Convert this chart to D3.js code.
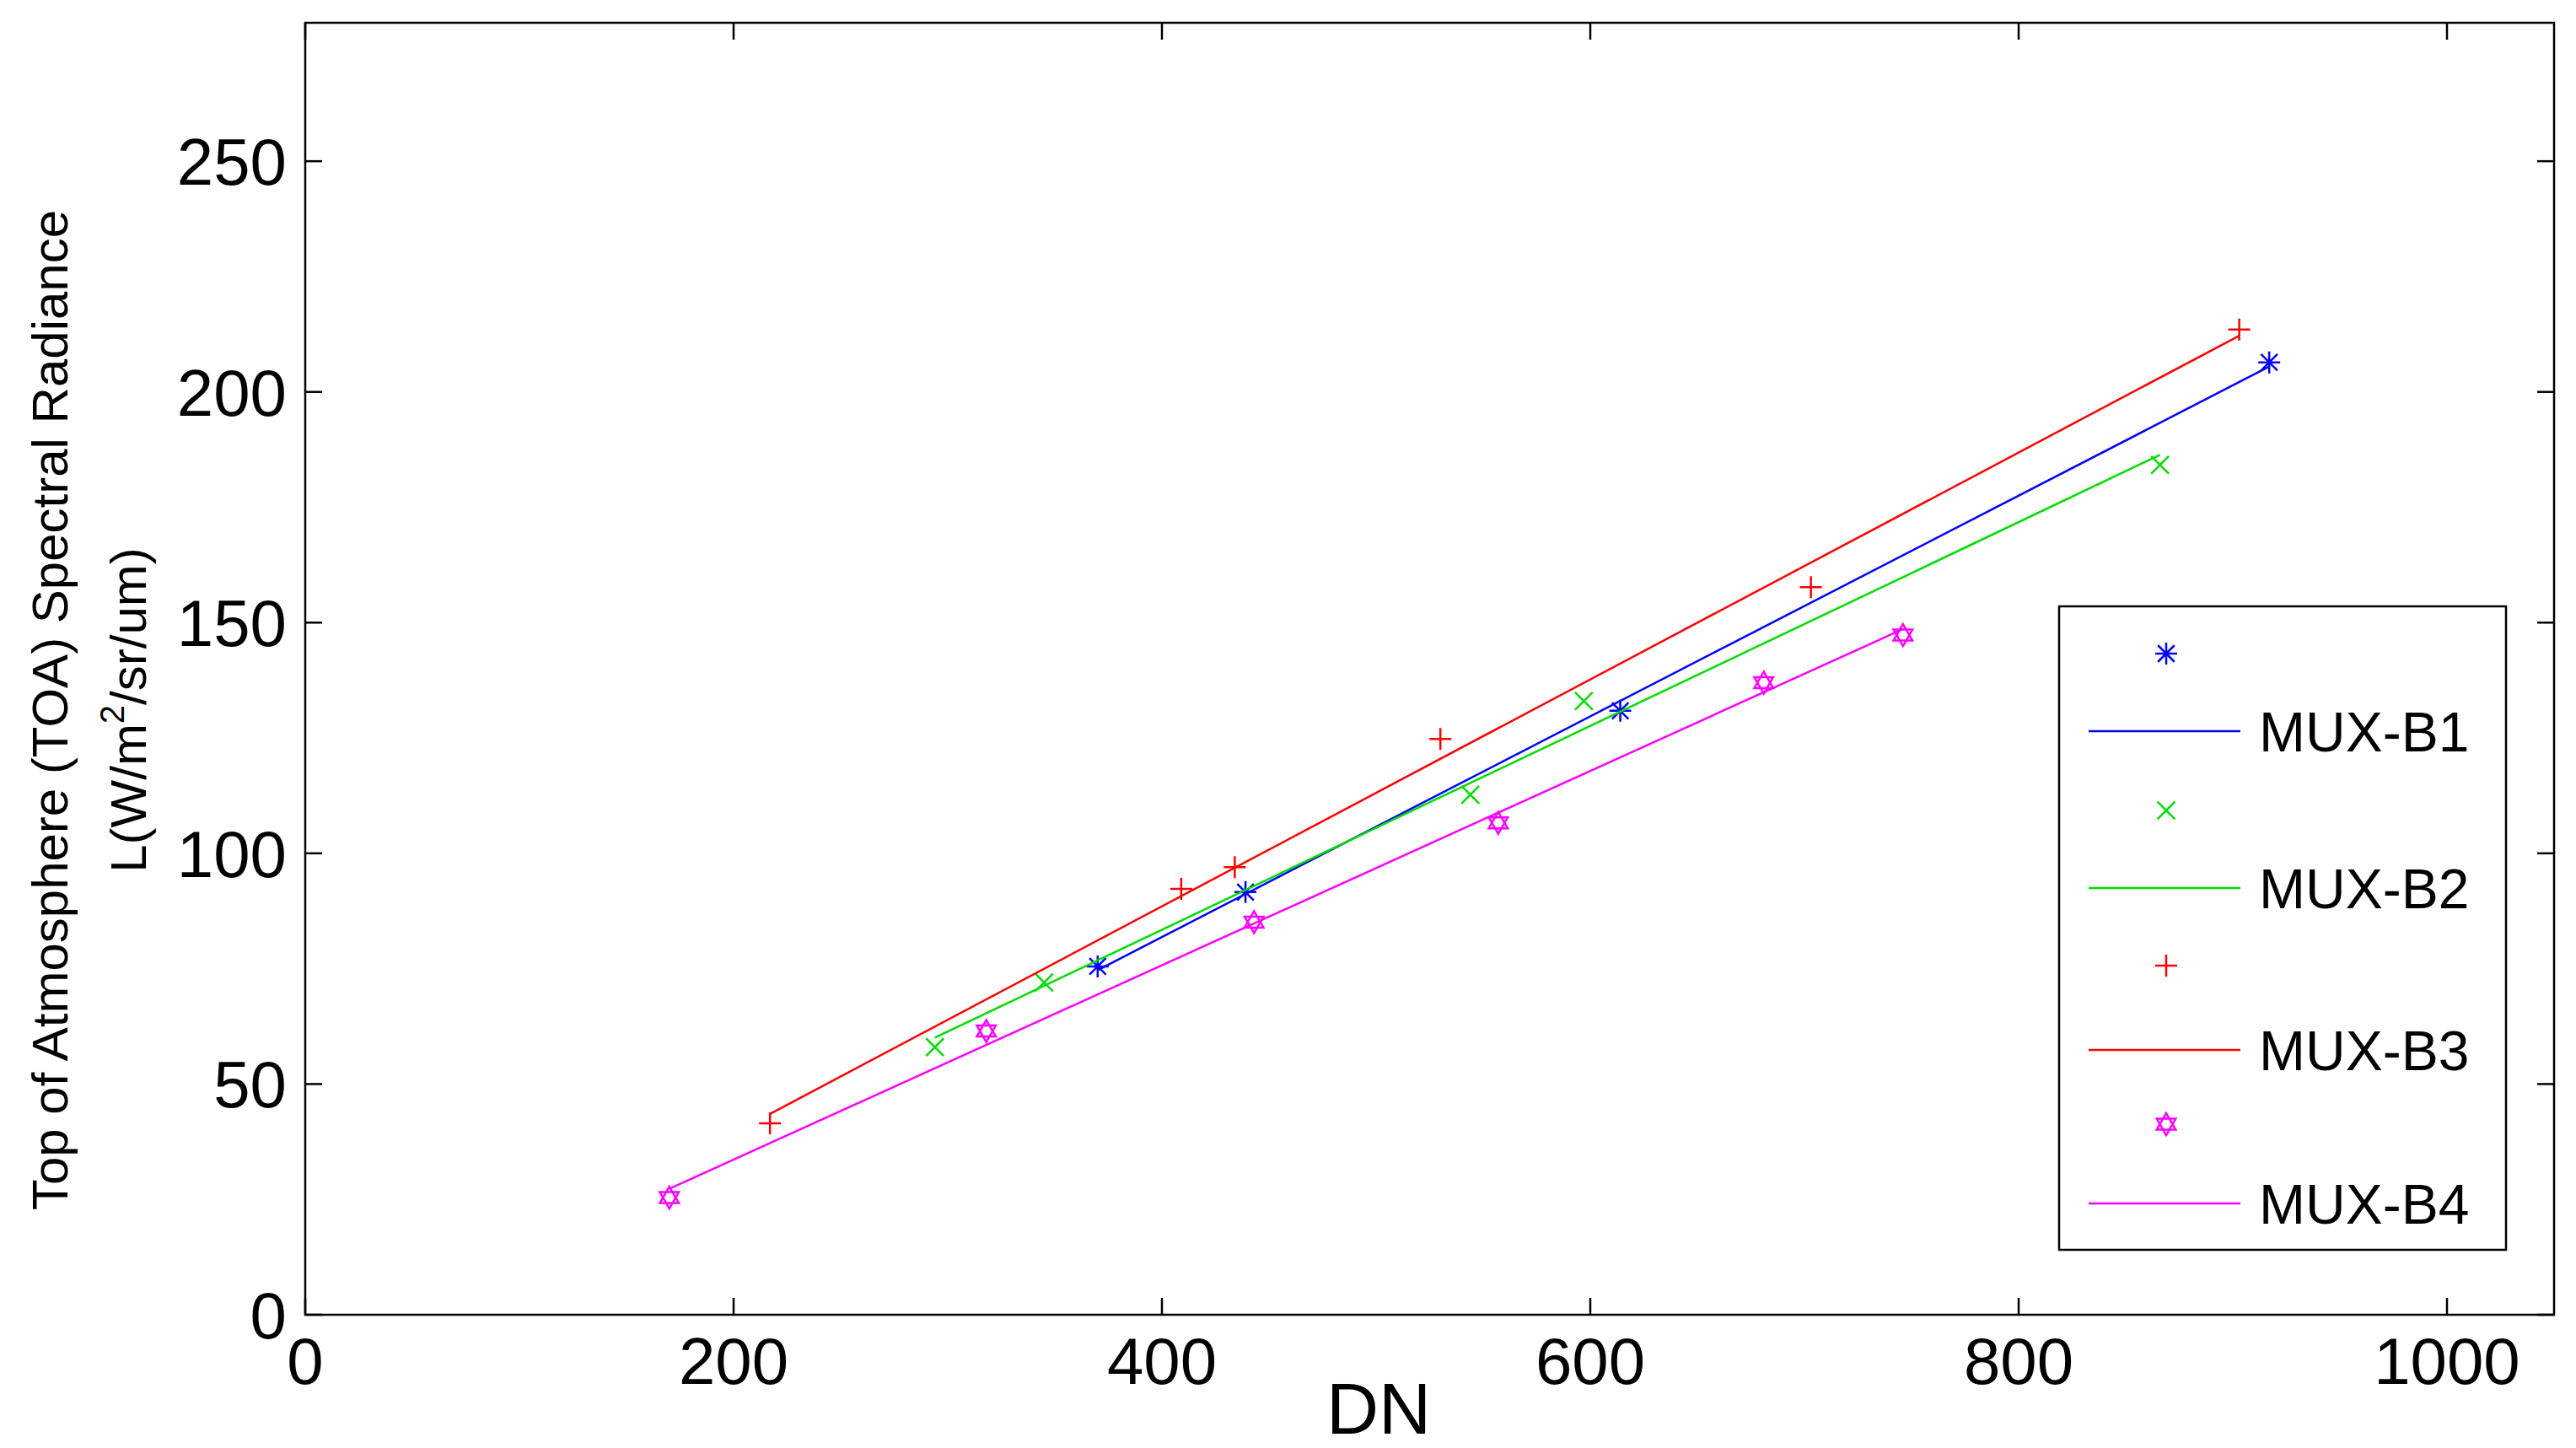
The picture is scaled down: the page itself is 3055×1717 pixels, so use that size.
<!DOCTYPE html>
<html><head><meta charset="utf-8">
<script src="https://cdn.jsdelivr.net/npm/d3@7"></script>
<style>body{margin:0;background:#fff}svg{font-family:"Liberation Sans",Arial,sans-serif}</style>
</head><body><svg id="c" width="3055" height="1717"></svg>
<script>
const xTicks=[0,200,400,600,800,1000];
const yTicks=[0,50,100,150,200,250];
const b1x=[370,439,614,917], b1y=[75.5,91.6,130.9,206.4];
const b2x=[294,345,544,597,866], b2y=[58,72,112.7,133,184.2];
const b3x=[217,409,434,530,703,903], b3y=[41.5,92.3,97,124.8,157.7,213.5];
const b4x=[170,318,443,557,681,746], b4y=[25.4,61.5,85.1,106.6,137,147.3];
const names=["MUX-B1","MUX-B2","MUX-B3","MUX-B4"];
const colors=["#0000ff","#00dd00","#ff0000","#ff00ff"];
const markers=["star","x","plus","hex"];
const series=[[b1x,b1y],[b2x,b2y],[b3x,b3y],[b4x,b4y]];

const svg=d3.select("#c");
const L=362,T=27,R=3029,B=1559;
const x=d3.scaleLinear().domain([0,1050]).range([L,R]);
const y=d3.scaleLinear().domain([0,280]).range([B,T]);
const tl=20;
function marker(g,type,cx,cy,col){
  const s=13;
  if(type==="plus"){g.append("path").attr("d",`M${cx-s},${cy}H${cx+s}M${cx},${cy-s}V${cy+s}`).attr("stroke",col).attr("stroke-width",2.5).attr("fill","none");}
  else if(type==="x"){const k=s*0.8;g.append("path").attr("d",`M${cx-k},${cy-k}L${cx+k},${cy+k}M${cx-k},${cy+k}L${cx+k},${cy-k}`).attr("stroke",col).attr("stroke-width",2.5).attr("fill","none");}
  else if(type==="star"){const k=s*0.75;g.append("path").attr("d",`M${cx-s},${cy}H${cx+s}M${cx},${cy-s}V${cy+s}M${cx-k},${cy-k}L${cx+k},${cy+k}M${cx-k},${cy+k}L${cx+k},${cy-k}`).attr("stroke",col).attr("stroke-width",2.5).attr("fill","none");}
  else {const r=s;const tri=a=>d3.range(3).map(i=>{const t=a+i*2*Math.PI/3;return [cx+r*Math.sin(t),cy-r*Math.cos(t)];});
    g.append("path").attr("d","M"+tri(0).join("L")+"Z"+"M"+tri(Math.PI).join("L")+"Z").attr("stroke",col).attr("stroke-width",2.5).attr("fill","none");}
}
svg.append("rect").attr("x",L).attr("y",T).attr("width",R-L).attr("height",B-T).attr("fill","#fff").attr("stroke","#000").attr("stroke-width",2.5);
const ax=svg.append("g").attr("font-size",78);
xTicks.forEach(v=>{const px=x(v);
  ax.append("line").attr("x1",px).attr("x2",px).attr("y1",B).attr("y2",B-tl).attr("stroke","#000").attr("stroke-width",2.5);
  ax.append("line").attr("x1",px).attr("x2",px).attr("y1",T).attr("y2",T+tl).attr("stroke","#000").attr("stroke-width",2.5);
  ax.append("text").attr("x",px).attr("y",B+82).attr("text-anchor","middle").text(v);});
yTicks.forEach(v=>{const py=y(v);
  ax.append("line").attr("x1",L).attr("x2",L+tl).attr("y1",py).attr("y2",py).attr("stroke","#000").attr("stroke-width",2.5);
  ax.append("line").attr("x1",R).attr("x2",R-tl).attr("y1",py).attr("y2",py).attr("stroke","#000").attr("stroke-width",2.5);
  ax.append("text").attr("x",L-22).attr("y",py+28).attr("text-anchor","end").text(v);});
svg.append("text").attr("x",1635).attr("y",1700).attr("text-anchor","middle").attr("font-size",86).text("DN");
const yl=svg.append("text").attr("transform","translate(80,842) rotate(-90)").attr("text-anchor","middle").attr("font-size",60);
yl.append("tspan").attr("x",0).attr("y",0).text("Top of Atmosphere (TOA) Spectral Radiance");
const yl2=svg.append("text").attr("transform","translate(173,842) rotate(-90)").attr("text-anchor","middle").attr("font-size",60);
yl2.append("tspan").text("L(W/m");yl2.append("tspan").attr("font-size",40).attr("dy",-26).text("2");yl2.append("tspan").attr("dy",26).text("/sr/um)");

series.forEach(([xs,ys],i)=>{
  const n=xs.length,mx=d3.mean(xs),my=d3.mean(ys);
  const b=d3.sum(xs.map((v,j)=>(v-mx)*(ys[j]-my)))/d3.sum(xs.map(v=>(v-mx)**2));
  const a=my-b*mx, x0=d3.min(xs), x1=d3.max(xs);
  svg.append("line").attr("x1",x(x0)).attr("y1",y(a+b*x0)).attr("x2",x(x1)).attr("y2",y(a+b*x1)).attr("stroke",colors[i]).attr("stroke-width",2.5);
  const g=svg.append("g");
  xs.forEach((v,j)=>marker(g,markers[i],x(v),y(ys[j]),colors[i]));
});
// legend
svg.append("rect").attr("x",2442).attr("y",719).attr("width",530).attr("height",763).attr("fill","#fff").attr("stroke","#000").attr("stroke-width",2.5);
const rows=[775,867,961,1053,1145,1245,1333,1427];
names.forEach((nm,i)=>{
  const lg=svg.append("g");
  marker(lg,markers[i],2569,rows[2*i],colors[i]);
  const ry=rows[2*i+1];
  lg.append("line").attr("x1",2477).attr("x2",2657).attr("y1",ry).attr("y2",ry).attr("stroke",colors[i]).attr("stroke-width",2.5);
  lg.append("text").attr("x",2679).attr("y",ry+24).attr("font-size",66).text(nm);
});
</script></body></html>
